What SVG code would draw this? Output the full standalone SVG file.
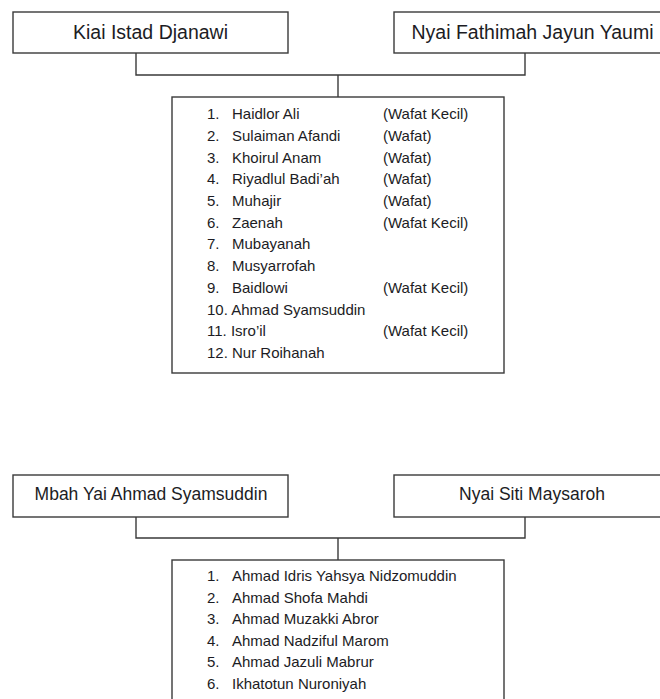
<svg xmlns="http://www.w3.org/2000/svg" width="660" height="699" viewBox="0 0 660 699">
  <style>
    .box { fill: #ffffff; stroke: #3a3a3a; stroke-width: 1.4; }
    .link { fill: none; stroke: #3a3a3a; stroke-width: 1.4; }
    .head { font-family: "Liberation Sans", Arial, sans-serif; font-size: 19.5px; fill: #1c1c24; text-anchor: middle; }
    .head.small { font-size: 17.5px; }
    .item { font-family: "Liberation Sans", Arial, sans-serif; font-size: 15px; fill: #1c1c24; }
  </style>
  <rect width="660" height="699" fill="#ffffff"/>

  <!-- Connectors: parents joined, then a drop to the children list -->
  <g id="connectors">
    <path class="link" d="M136,53 V75 H525 V53"/>
    <path class="link" d="M338,75 V97"/>
    <path class="link" d="M136,517 V538 H525 V517"/>
    <path class="link" d="M338,538 V560"/>
  </g>

  <!-- Family 1 -->
  <g id="kiai-istad-djanawi">
    <rect class="box" x="13" y="12" width="275" height="41"/>
    <text class="head" x="150.5" y="39">Kiai Istad Djanawi</text>
  </g>
  <g id="nyai-fathimah-jayun-yaumi">
    <rect class="box" x="394" y="12" width="280" height="41"/>
    <text class="head" x="532.5" y="39">Nyai Fathimah Jayun Yaumi</text>
  </g>
  <g id="children-1">
    <rect class="box" x="172" y="97" width="332" height="276"/>
    <g class="item">
      <text x="207" y="119">1.</text><text x="232" y="119">Haidlor Ali</text><text x="383" y="119">(Wafat Kecil)</text>
      <text x="207" y="140.7">2.</text><text x="232" y="140.7">Sulaiman Afandi</text><text x="383" y="140.7">(Wafat)</text>
      <text x="207" y="162.5">3.</text><text x="232" y="162.5">Khoirul Anam</text><text x="383" y="162.5">(Wafat)</text>
      <text x="207" y="184.2">4.</text><text x="232" y="184.2">Riyadlul Badi’ah</text><text x="383" y="184.2">(Wafat)</text>
      <text x="207" y="205.9">5.</text><text x="232" y="205.9">Muhajir</text><text x="383" y="205.9">(Wafat)</text>
      <text x="207" y="227.6">6.</text><text x="232" y="227.6">Zaenah</text><text x="383" y="227.6">(Wafat Kecil)</text>
      <text x="207" y="249.4">7.</text><text x="232" y="249.4">Mubayanah</text>
      <text x="207" y="271.1">8.</text><text x="232" y="271.1">Musyarrofah</text>
      <text x="207" y="292.8">9.</text><text x="232" y="292.8">Baidlowi</text><text x="383" y="292.8">(Wafat Kecil)</text>
      <text x="207" y="314.5">10. Ahmad Syamsuddin</text>
      <text x="207" y="336.3">11. Isro’il</text><text x="383" y="336.3">(Wafat Kecil)</text>
      <text x="207" y="358">12. Nur Roihanah</text>
    </g>
  </g>

  <!-- Family 2 -->
  <g id="mbah-yai-ahmad-syamsuddin">
    <rect class="box" x="13" y="475" width="275" height="42"/>
    <text class="head small" x="151" y="499.5">Mbah Yai Ahmad Syamsuddin</text>
  </g>
  <g id="nyai-siti-maysaroh">
    <rect class="box" x="394" y="475" width="280" height="42"/>
    <text class="head small" x="532" y="499.5">Nyai Siti Maysaroh</text>
  </g>
  <g id="children-2">
    <rect class="box" x="172" y="560" width="332" height="150"/>
    <g class="item">
      <text x="207" y="581">1.</text><text x="232" y="581">Ahmad Idris Yahsya Nidzomuddin</text>
      <text x="207" y="602.6">2.</text><text x="232" y="602.6">Ahmad Shofa Mahdi</text>
      <text x="207" y="624.2">3.</text><text x="232" y="624.2">Ahmad Muzakki Abror</text>
      <text x="207" y="645.8">4.</text><text x="232" y="645.8">Ahmad Nadziful Marom</text>
      <text x="207" y="667.4">5.</text><text x="232" y="667.4">Ahmad Jazuli Mabrur</text>
      <text x="207" y="689">6.</text><text x="232" y="689">Ikhatotun Nuroniyah</text>
    </g>
  </g>
</svg>
